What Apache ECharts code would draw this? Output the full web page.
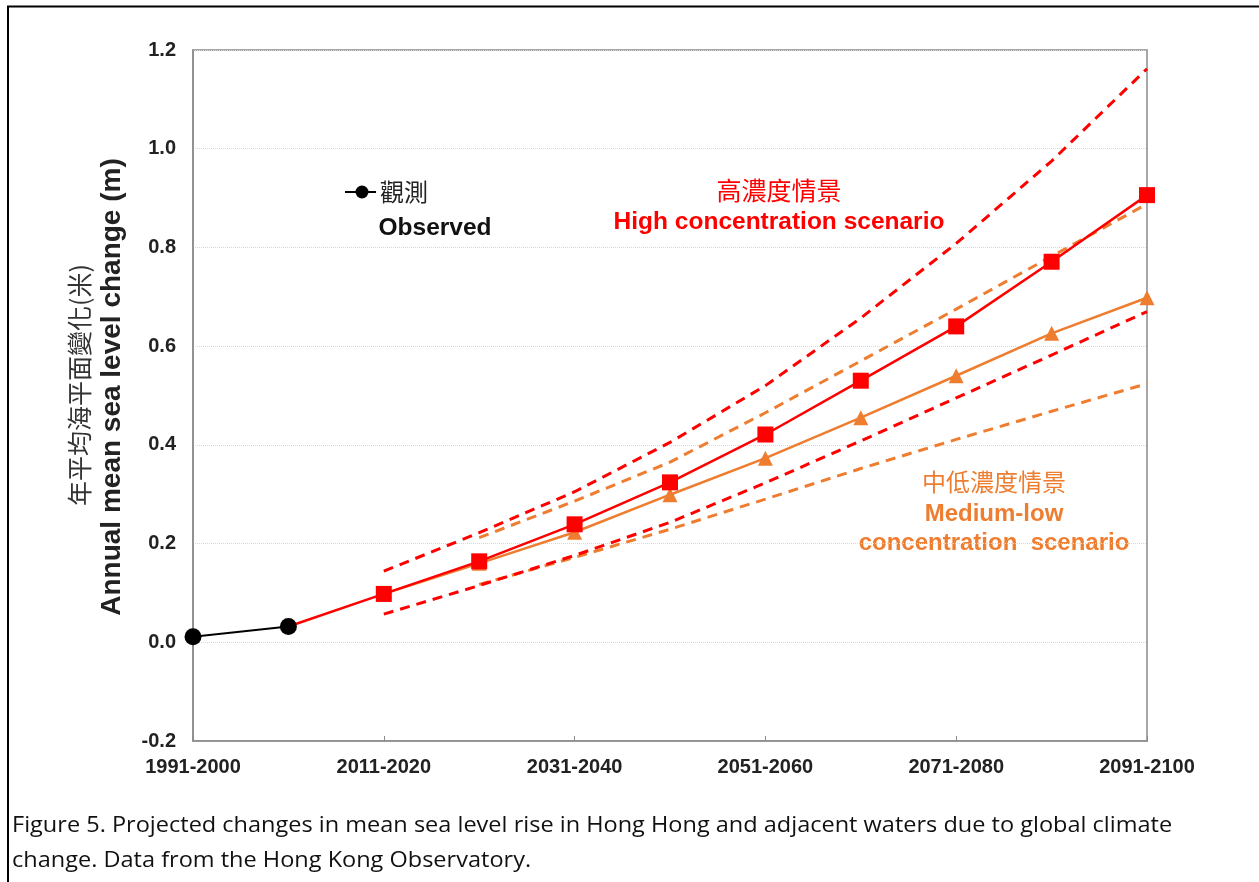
<!DOCTYPE html>
<html>
<head>
<meta charset="utf-8">
<script src="https://cdn.jsdelivr.net/npm/echarts@6/dist/echarts.min.js"></script>
<style>
html,body{margin:0;padding:0;background:#fff;}
#c{width:1259px;height:882px;}
</style>
</head>
<body>
<div id="c"></div>
<script>
const categories = ['1991-2000','2001-2010','2011-2020','2021-2030','2031-2040','2041-2050','2051-2060','2061-2070','2071-2080','2081-2090','2091-2100'];
const yTicks = [-0.2, 0.0, 0.2, 0.4, 0.6, 0.8, 1.0, 1.2];
const observed   = [0.011, 0.032, null, null, null, null, null, null, null, null, null];
const highMean   = [null, 0.032, 0.098, 0.164, 0.239, 0.324, 0.421, 0.530, 0.640, 0.771, 0.906];
const highUpper  = [null, null, 0.144, 0.222, 0.305, 0.405, 0.520, 0.657, 0.808, 0.975, 1.162];
const highLower  = [null, null, 0.057, 0.115, 0.176, 0.243, 0.323, 0.408, 0.495, 0.582, 0.670];
const medMean    = [null, null, 0.098, 0.160, 0.223, 0.299, 0.373, 0.455, 0.540, 0.626, 0.698];
const medUpper   = [null, null, null, 0.212, 0.286, 0.365, 0.465, 0.570, 0.675, 0.782, 0.888];
const medLower   = [null, null, null, 0.117, 0.172, 0.229, 0.290, 0.352, 0.411, 0.468, 0.524];

const RED = '#ff0000';
const ORANGE = '#ee7d30';
const latin = "'Liberation Sans', Arial, sans-serif";
const cjk = "'Noto Sans CJK TC', 'Noto Sans CJK SC', sans-serif";

const chart = echarts.init(document.getElementById('c'), null, {renderer:'canvas'});

function dashed(name, data, color, z) {
  return {name, type:'line', data, symbol:'none', z,
    lineStyle:{color, width:3, type:[10,7]}, connectNulls:false, silent:true};
}

chart.setOption({
  animation:false,
  backgroundColor:'#fff',
  grid:{left:193, right:112, top:50, bottom:141, show:true, borderColor:'#8a8a8a', borderWidth:1.5, containLabel:false},
  xAxis:{
    type:'category', data:categories, boundaryGap:false,
    axisLine:{show:true, onZero:false, lineStyle:{color:'#8a8a8a', width:1.5}},
    axisTick:{show:true, inside:true, length:5, interval:1, lineStyle:{color:'#8a8a8a'}},
    axisLabel:{interval:1, margin:16, color:'#222', fontFamily:latin, fontWeight:'bold', fontSize:20},
    splitLine:{show:false}
  },
  yAxis:{
    type:'value', min:yTicks[0], max:yTicks[yTicks.length-1], interval:0.2,
    axisLine:{show:true, lineStyle:{color:'#8a8a8a', width:1.5}},
    axisTick:{show:false},
    axisLabel:{margin:17, color:'#222', fontFamily:latin, fontWeight:'bold', fontSize:20,
      formatter:v=>v.toFixed(1)},
    splitLine:{show:true, lineStyle:{color:'#d8d8d8', width:1, type:'dotted'}}
  },
  series:[
    dashed('High upper', highUpper, RED, 3),
    dashed('High lower', highLower, RED, 3),
    dashed('Med upper', medUpper, ORANGE, 2),
    dashed('Med lower', medLower, ORANGE, 2),
    {name:'Medium-low', type:'line', data:medMean, z:4, symbol:'triangle', symbolSize:15,
      itemStyle:{color:ORANGE}, lineStyle:{color:ORANGE, width:2.5}},
    {name:'High', type:'line', data:highMean, z:5, symbol:'rect',
      showSymbol:true,
      itemStyle:{color:RED}, lineStyle:{color:RED, width:2.5},
      symbolSize:(v,p)=>p.dataIndex===1?0:16},
    {name:'Observed', type:'line', data:observed, z:6, symbol:'circle', symbolSize:17,
      itemStyle:{color:'#000'}, lineStyle:{color:'#000', width:2}}
  ],
  graphic:[
    {type:'polyline', shape:{points:[[8,882],[8,6.5],[1259,6.5]]}, style:{stroke:'#000', lineWidth:2, fill:null}},
    {type:'text', x:79, y:385, rotation:Math.PI/2,
      style:{text:'年平均海平面變化(米)', font:"25px "+cjk, fill:'#333', textAlign:'center', textVerticalAlign:'middle'}},
    {type:'text', x:112, y:387, rotation:Math.PI/2,
      style:{text:'Annual mean sea level change (m)', font:"bold 28px "+latin, fill:'#222', textAlign:'center', textVerticalAlign:'middle'}},
    {type:'line', shape:{x1:345, y1:192, x2:376, y2:192}, style:{stroke:'#000', lineWidth:2}},
    {type:'circle', shape:{cx:362, cy:192, r:6.5}, style:{fill:'#000'}},
    {type:'text', x:380, y:192, style:{text:'觀測', font:"24px "+cjk, fill:'#222', textAlign:'left', textVerticalAlign:'middle'}},
    {type:'text', x:435, y:228, style:{text:'Observed', font:"bold 24.5px "+latin, fill:'#111', textAlign:'center', textVerticalAlign:'middle'}},
    {type:'text', x:779, y:190, style:{text:'高濃度情景', font:"25px "+cjk, fill:RED, textAlign:'center', textVerticalAlign:'middle'}},
    {type:'text', x:779, y:222, style:{text:'High concentration scenario', font:"bold 24.5px "+latin, fill:RED, textAlign:'center', textVerticalAlign:'middle'}},
    {type:'text', x:994, y:482, style:{text:'中低濃度情景', font:"24px "+cjk, fill:ORANGE, textAlign:'center', textVerticalAlign:'middle'}},
    {type:'text', x:994, y:514, style:{text:'Medium-low', font:"bold 24px "+latin, fill:ORANGE, textAlign:'center', textVerticalAlign:'middle'}},
    {type:'text', x:994, y:543, style:{text:'concentration  scenario', font:"bold 24px "+latin, fill:ORANGE, textAlign:'center', textVerticalAlign:'middle'}},
    {type:'text', x:12, y:826, scaleX:1.12, style:{text:'Figure 5. Projected changes in mean sea level rise in Hong Hong and adjacent waters due to global climate', font:"21px 'Open Sans', sans-serif", fill:'#111', textAlign:'left', textVerticalAlign:'middle'}},
    {type:'text', x:12, y:861, scaleX:1.12, style:{text:'change. Data from the Hong Kong Observatory.', font:"21px 'Open Sans', sans-serif", fill:'#111', textAlign:'left', textVerticalAlign:'middle'}}
  ]
});
</script>
</body>
</html>
